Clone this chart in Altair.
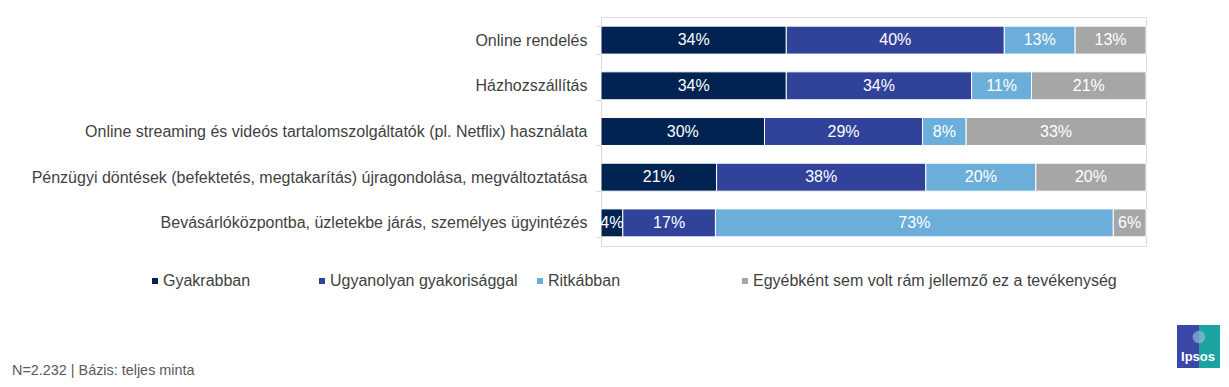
import altair as alt
import pandas as pd

categories = [
    "Online rendelés",
    "Házhozszállítás",
    "Online streaming és videós tartalomszolgáltatók (pl. Netflix) használata",
    "Pénzügyi döntések (befektetés, megtakarítás) újragondolása, megváltoztatása",
    "Bevásárlóközpontba, üzletekbe járás, személyes ügyintézés",
]
series_names = [
    "Gyakrabban",
    "Ugyanolyan gyakorisággal",
    "Ritkábban",
    "Egyébként sem volt rám jellemző ez a tevékenység",
]
gyakrabban = [34, 34, 30, 21, 4]
ugyanolyan = [40, 34, 29, 38, 17]
ritkabban = [13, 11, 8, 20, 73]
egyebkent = [13, 21, 33, 20, 6]
colors = ["#002352", "#31429b", "#6aaed9", "#a6a6a6"]
footnote = "N=2.232 | Bázis: teljes minta"
logo_text = "Ipsos"

series_values = [gyakrabban, ugyanolyan, ritkabban, egyebkent]
rows = []
for si, (name, vals) in enumerate(zip(series_names, series_values)):
    for ci, cat in enumerate(categories):
        rows.append({"cat": cat, "series": name, "order": si, "value": vals[ci]})
df = pd.DataFrame(rows)

FONT = "Liberation Sans"
FS = 16

base = alt.Chart(df).transform_stack(
    stack="value",
    groupby=["cat"],
    sort=[alt.SortField("order", order="ascending")],
    as_=["x0", "x1"],
    offset="normalize",
)

y_enc = alt.Y(
    "cat:N",
    sort=categories,
    title=None,
    scale=alt.Scale(paddingInner=0.388, paddingOuter=0.2),
    axis=alt.Axis(
        domainColor="#d9d9d9",
        tickColor="#d9d9d9",
        tickSize=5,
        tickBand="extent",
        labelPadding=9,
        labelLimit=700,
        labelFontSize=FS,
        labelColor="#3f3f3f",
        labelFont=FONT,
        grid=False,
    ),
)
x_scale = alt.Scale(domain=[0, 1], nice=False, zero=True)

legend_x = [-454, -287, -69, 136]
layers = []
for i, name in enumerate(series_names):
    layers.append(
        base.transform_filter(alt.datum.series == name)
        .mark_bar(stroke="white", strokeWidth=1)
        .encode(
            x=alt.X("x0:Q", scale=x_scale, axis=None),
            x2="x1:Q",
            y=y_enc,
            color=alt.Color(
                "series:N",
                scale=alt.Scale(domain=[name], range=[colors[i]]),
                legend=alt.Legend(
                    orient="none",
                    legendX=legend_x[i],
                    legendY=256,
                    title=None,
                    symbolType="square",
                    symbolSize=36,
                    symbolStrokeWidth=0,
                    labelOffset=0,
                    labelFontSize=FS,
                    labelColor="#3f3f3f",
                    labelFont=FONT,
                    labelLimit=700,
                ),
            ),
        )
    )

labels = base.transform_calculate(
    mid="(datum.x0 + datum.x1) / 2", label="datum.value + '%'"
).mark_text(color="white", fontSize=FS, font=FONT).encode(
    x=alt.X("mid:Q", scale=x_scale, axis=None),
    y=y_enc,
    text="label:N",
)

logo_data = alt.Data(values=[{"t": logo_text}])
logo_blue = alt.Chart(logo_data).mark_rect(color="#3b47a6").encode(
    x=alt.value(576), x2=alt.value(598), y=alt.value(308), y2=alt.value(351)
)
logo_teal = alt.Chart(logo_data).mark_rect(color="#1aa3a0").encode(
    x=alt.value(598), x2=alt.value(619), y=alt.value(308), y2=alt.value(351)
)
logo_head = alt.Chart(logo_data).mark_point(
    filled=True, color="#8fb8d8", size=160, shape="circle", opacity=0.7
).encode(x=alt.value(598), y=alt.value(320))
logo_txt = alt.Chart(logo_data).mark_text(
    color="white", fontSize=13, fontWeight="bold", font=FONT
).encode(x=alt.value(597), y=alt.value(340), text="t:N")

chart = (
    alt.layer(*layers, labels, logo_blue, logo_teal, logo_head, logo_txt)
    .resolve_scale(color="independent")
    .properties(
        width=545,
        height=229,
        autosize=alt.AutoSizeParams(type="none"),
        padding={"left": 593, "top": 9, "right": 75, "bottom": 133},
        title=alt.TitleParams(
            footnote,
            orient="bottom",
            anchor="start",
            frame="group",
            fontSize=14.4,
            fontWeight="normal",
            color="#595959",
            font=FONT,
            dx=-589,
            offset=-4,
        ),
    )
    .configure_view(stroke=None)
    .configure(font=FONT)
)

chart.save("out.html", embed_options={"renderer": "svg", "actions": False})
